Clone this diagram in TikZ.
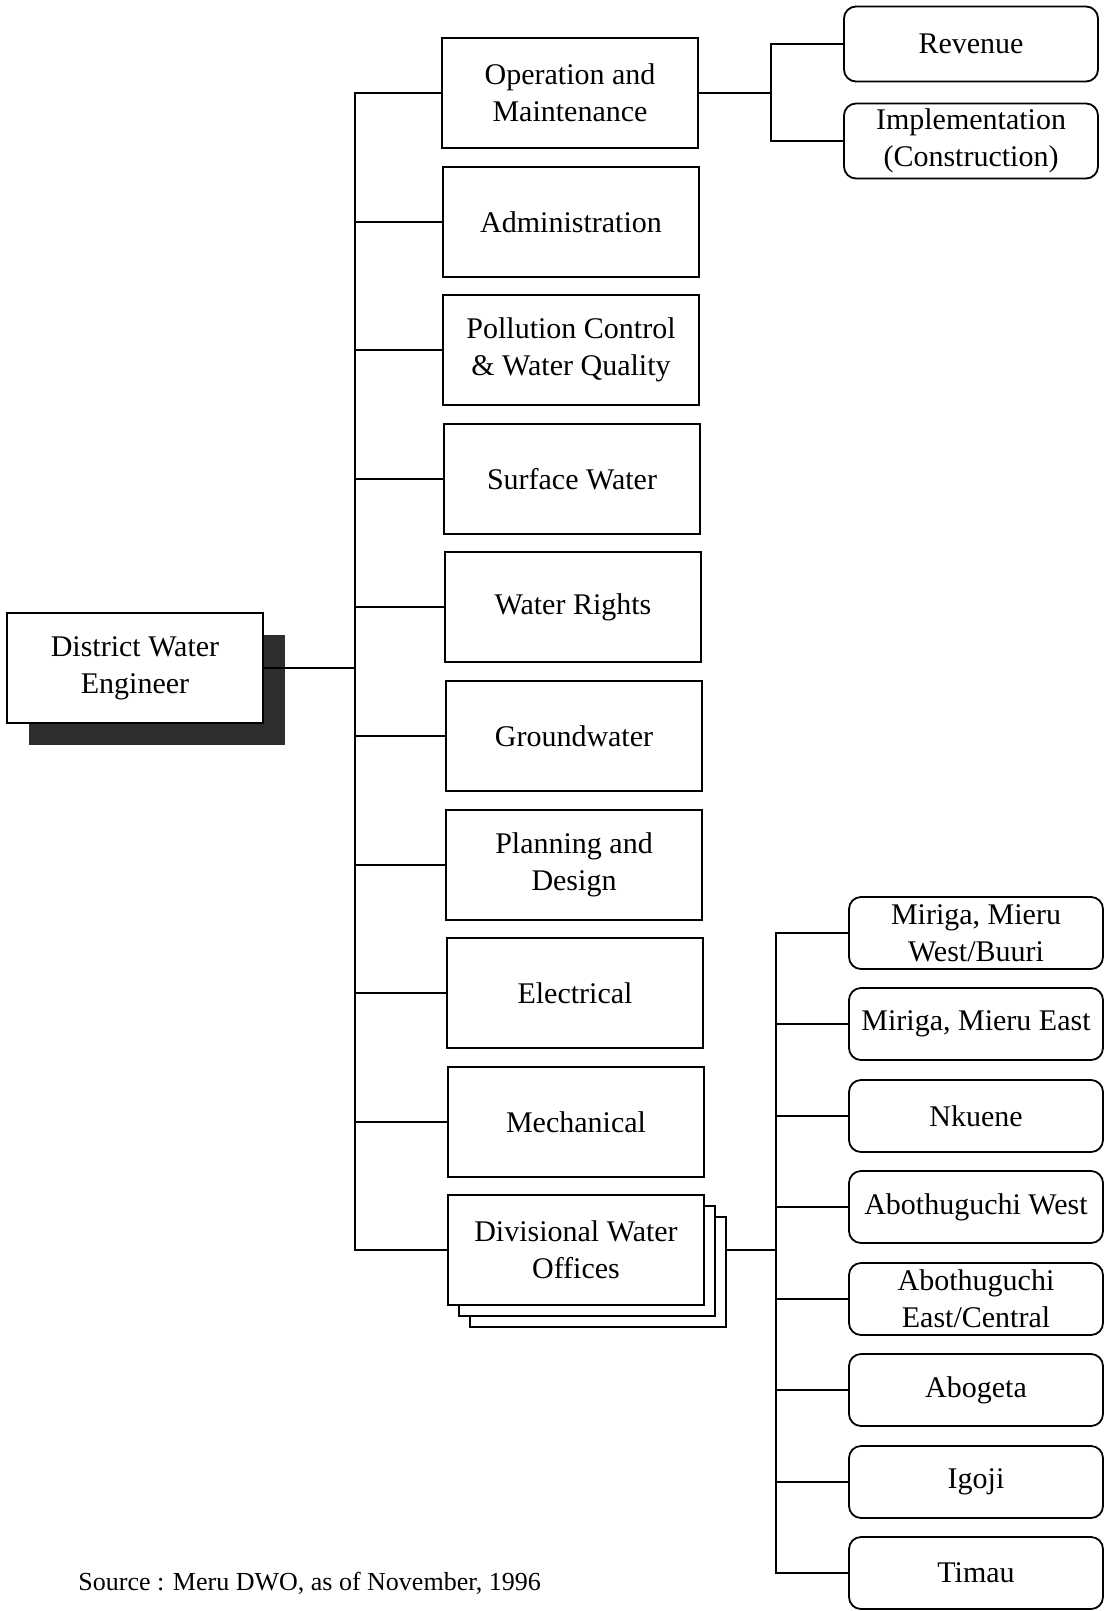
\documentclass[tikz,border=0pt]{standalone}
\usepackage{fontspec}
\setmainfont{Liberation Serif}
\usetikzlibrary{shadows}

\begin{document}
\begin{tikzpicture}[x=0.5pt, y=-0.5pt,
    every node/.style={font=\fontsize{15}{18.5}\selectfont, align=center},
    box/.style={rectangle, draw, line width=1.1pt, fill=white, minimum width=128pt, minimum height=55pt, inner sep=2pt},
    subbox/.style={rectangle, draw, rounded corners=6pt, line width=0.9pt, fill=white, minimum width=127pt, minimum height=36pt, inner sep=1pt},
    link/.style={line width=0.6pt}]
    \useasboundingbox (0,0) rectangle (1105,1611);

    % Capo
    \node[box, drop shadow={shadow xshift=11pt, shadow yshift=-11pt, fill=black!82, opacity=1}] (dwe) at (135,668) {District Water\\Engineer};

    % Sezioni
    \node[box] (om)  at (570,93)   {Operation and\\Maintenance};
    \node[box] (adm) at (571,222)  {Administration};
    \node[box] (pol) at (571,350)  {Pollution Control\\\& Water Quality};
    \node[box] (sw)  at (572,479)  {Surface Water};
    \node[box] (wr)  at (573,607)  {Water Rights};
    \node[box] (gw)  at (574,736)  {Groundwater};
    \node[box] (pd)  at (574,865)  {Planning and\\Design};
    \node[box] (el)  at (575,993)  {Electrical};
    \node[box] (me)  at (576,1122) {Mechanical};
    \node[box] (dwo3) at (598,1272) {};
    \node[box] (dwo2) at (587,1261) {};
    \node[box] (dwo) at (576,1250) {Divisional Water\\Offices};

    % O&M
    \node[subbox, minimum height=37.5pt] (rev) at (971,44)  {Revenue};
    \node[subbox, minimum height=37.5pt] (imp) at (971,141) {Implementation\\(Construction)};

    % Uffici divisionali
    \node[subbox] (d1) at (976,933)  {Miriga, Mieru\\West/Buuri};
    \node[subbox] (d2) at (976,1024) {Miriga, Mieru East};
    \node[subbox] (d3) at (976,1116) {Nkuene};
    \node[subbox] (d4) at (976,1207) {Abothuguchi West};
    \node[subbox] (d5) at (976,1299) {Abothuguchi\\East/Central};
    \node[subbox] (d6) at (976,1390) {Abogeta};
    \node[subbox] (d7) at (976,1482) {Igoji};
    \node[subbox] (d8) at (976,1573) {Timau};

    \node[anchor=base west, inner sep=0pt, font=\fontsize{13}{15}\selectfont] (src) at (78,1590) {Source : Meru DWO, as of November, 1996};

    % Archi
    \coordinate (tr) at (355,668);
    \coordinate (j1) at (771,93);
    \coordinate (j2) at (776,1250);
    \draw[link] (dwe.east) -- (tr);
    \foreach \n in {om,adm,pol,sw,wr,gw,pd,el,me,dwo}
        \draw[link] (tr) |- (\n.west);
    \draw[link] (om.east) -- (j1);
    \draw[link] (j1) |- (rev.west);
    \draw[link] (j1) |- (imp.west);
    \draw[link] (dwo.east -| dwo3.east) -- (j2);
    \foreach \n in {d1,d2,d3,d4,d5,d6,d7,d8}
        \draw[link] (j2) |- (\n.west);
\end{tikzpicture}
\end{document}
